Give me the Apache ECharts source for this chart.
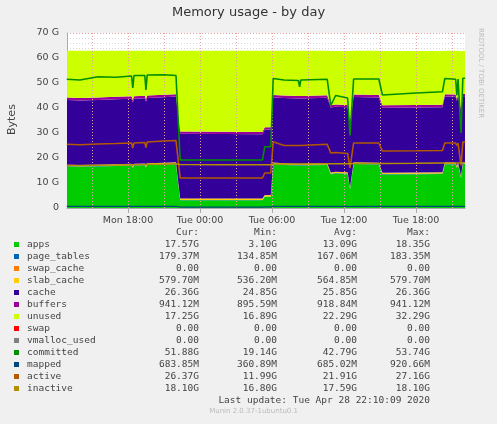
<!DOCTYPE html>
<html>
<head>
<meta charset="utf-8">
<script src="https://cdn.jsdelivr.net/npm/echarts@6/dist/echarts.min.js"></script>
<style>
  html, body { margin: 0; padding: 0; background: #f0f0f0; }
  #chart { width: 497px; height: 424px; }
</style>
</head>
<body>
<div id="chart"></div>
<script>
// hours since Mon 27 Apr 2020 00:00
var hours = [12.9, 14, 15.5, 17, 18.3, 18.4, 18.5, 19.4, 19.5, 19.6, 21, 22.0, 22.35, 26, 29.2,
    29.4, 29.9, 30.1, 31, 32.2, 32.3, 32.4, 34.6, 34.9, 35.3, 36.3, 36.5, 36.8, 38.9, 39.2,
    42, 44.2, 44.4, 45.3, 45.4, 45.5, 45.75, 45.9, 46.1];
var apps = [16.6, 16.5, 16.6, 16.8, 17.0, 16.0, 17.0, 17.1, 16.2, 17.2, 17.4, 17.5, 3.1, 3.1, 3.1,
    4.5, 4.5, 17.5, 17.2, 17.0, 16.8, 17.0, 17.2, 13.5, 13.8, 13.6, 7.5, 17.6, 17.4, 13.4,
    13.5, 13.6, 17.5, 17.4, 16.0, 17.4, 12.0, 17.6, 17.57];
var pageTables = [0.18, 0.18, 0.18, 0.18, 0.18, 0.18, 0.18, 0.18, 0.18, 0.18, 0.18, 0.18, 0.14, 0.14, 0.14,
    0.15, 0.15, 0.18, 0.18, 0.18, 0.18, 0.18, 0.18, 0.17, 0.17, 0.17, 0.16, 0.18, 0.18, 0.17,
    0.17, 0.17, 0.18, 0.18, 0.18, 0.18, 0.17, 0.18, 0.18];
var swapCache = [0, 0, 0, 0, 0, 0, 0, 0, 0, 0, 0, 0, 0, 0, 0, 0, 0, 0, 0, 0,
    0, 0, 0, 0, 0, 0, 0, 0, 0, 0, 0, 0, 0, 0, 0, 0, 0, 0, 0];
var slabCache = [0.57, 0.57, 0.57, 0.57, 0.57, 0.57, 0.57, 0.57, 0.57, 0.57, 0.57, 0.58, 0.54, 0.54, 0.54,
    0.55, 0.55, 0.57, 0.57, 0.57, 0.57, 0.57, 0.57, 0.56, 0.56, 0.56, 0.55, 0.57, 0.57, 0.56,
    0.56, 0.56, 0.58, 0.58, 0.58, 0.58, 0.57, 0.58, 0.58];
var cache = [25.9, 25.8, 25.9, 26.0, 26.0, 25.5, 26.0, 26.1, 25.6, 26.1, 26.2, 26.3, 25.9, 25.8, 25.7,
    26.2, 26.2, 26.0, 26.1, 26.1, 26.0, 26.1, 26.2, 26.0, 26.0, 26.0, 25.5, 26.1, 26.1, 26.0,
    26.0, 26.0, 26.3, 26.3, 26.0, 26.3, 26.0, 26.36, 26.36];
var buffers = [0.93, 0.93, 0.93, 0.93, 0.93, 0.93, 0.93, 0.93, 0.93, 0.93, 0.94, 0.94, 0.90, 0.90, 0.90,
    0.91, 0.91, 0.92, 0.92, 0.92, 0.92, 0.92, 0.92, 0.92, 0.92, 0.92, 0.92, 0.93, 0.93, 0.93,
    0.93, 0.93, 0.94, 0.94, 0.94, 0.94, 0.94, 0.94, 0.94];
var unused = [18.7, 18.9, 18.7, 18.4, 18.2, 19.7, 18.2, 18.0, 19.4, 17.9, 17.6, 17.4, 32.3, 32.4, 32.5,
    30.6, 30.6, 17.7, 17.9, 18.1, 18.3, 18.1, 17.8, 21.7, 21.4, 21.6, 28.2, 17.5, 17.7, 21.7,
    21.6, 21.5, 17.4, 17.5, 18.9, 17.5, 23.0, 17.25, 17.25];
var committed = [51.5, 51.2, 52.5, 52.3, 52.8, 48.0, 53.0, 53.0, 47.2, 53.2, 53.3, 53.0, 19.2, 19.2, 19.2,
    24.5, 24.5, 51.8, 51.2, 51.0, 48.5, 51.2, 51.5, 41.0, 45.0, 44.0, 29.0, 51.6, 51.6, 45.2,
    46.0, 46.5, 51.8, 51.5, 45.0, 51.6, 30.0, 51.9, 51.88];
var mapped = [0.68, 0.68, 0.68, 0.68, 0.68, 0.68, 0.68, 0.68, 0.68, 0.68, 0.69, 0.69, 0.37, 0.37, 0.37,
    0.45, 0.45, 0.68, 0.68, 0.68, 0.68, 0.68, 0.68, 0.66, 0.66, 0.66, 0.6, 0.68, 0.68, 0.66,
    0.66, 0.66, 0.68, 0.68, 0.68, 0.68, 0.65, 0.68, 0.68];
var active = [25.5, 25.3, 25.6, 25.8, 26.0, 24.0, 26.0, 26.2, 24.2, 26.4, 26.8, 27.0, 12.0, 12.0, 12.0,
    14.0, 14.0, 26.5, 25.0, 25.0, 24.5, 25.0, 25.5, 22.0, 22.2, 21.8, 16.0, 26.0, 26.0, 22.8,
    22.9, 23.0, 26.0, 26.0, 25.0, 26.0, 17.0, 26.4, 26.37];
var inactive = [17.0, 17.0, 17.1, 17.2, 17.3, 17.3, 17.3, 17.4, 17.4, 17.5, 17.6, 17.7, 17.4, 17.3, 17.3,
    17.3, 17.3, 17.6, 17.6, 17.6, 17.6, 17.6, 17.7, 17.7, 17.7, 17.7, 17.7, 17.8, 17.8, 17.8,
    17.9, 18.0, 18.0, 18.0, 18.0, 18.0, 18.0, 18.1, 18.1];

var tickHours = [18, 24, 30, 36, 42];
var tickLabels = ['Mon 18:00', 'Tue 00:00', 'Tue 06:00', 'Tue 12:00', 'Tue 18:00'];
var gridHours = [15, 18, 21, 24, 27, 30, 33, 36, 39, 42, 45];

var legendNames = ['apps', 'page_tables', 'swap_cache', 'slab_cache', 'cache', 'buffers', 'unused',
    'swap', 'vmalloc_used', 'committed', 'mapped', 'active', 'inactive'];
var legendColors = ['#00CC00', '#0066B3', '#FF8000', '#FFCC00', '#330099', '#990099', '#CCFF00',
    '#FF0000', '#808080', '#008F00', '#00487D', '#B35A00', '#B38F00'];
var curVals = ['17.57G', '179.37M', '0.00', '579.70M', '26.36G', '941.12M', '17.25G', '0.00', '0.00', '51.88G', '683.85M', '26.37G', '18.10G'];
var minVals = ['3.10G', '134.85M', '0.00', '536.20M', '24.85G', '895.59M', '16.89G', '0.00', '0.00', '19.14G', '360.89M', '11.99G', '16.80G'];
var avgVals = ['13.09G', '167.06M', '0.00', '564.85M', '25.85G', '918.84M', '22.29G', '0.00', '0.00', '42.79G', '685.02M', '21.91G', '17.59G'];
var maxVals = ['18.35G', '183.35M', '0.00', '579.70M', '26.36G', '941.12M', '32.29G', '0.00', '0.00', '53.74G', '920.66M', '27.16G', '18.10G'];

var T0 = Date.UTC(2020, 3, 27);
var HOUR = 3600 * 1000;
function ts(h) { return T0 + h * HOUR; }
function pairs(arr) {
    return hours.map((h, i) => [ts(h), arr[i]]);
}

function area(name, arr, color) {
    return {
        name: name, type: 'line', stack: 'mem', data: pairs(arr), symbol: 'none',
        lineStyle: {width: 0}, itemStyle: {color: color},
        areaStyle: {color: color, opacity: 1}, silent: true
    };
}
function line(name, arr, color, w) {
    return {
        name: name, type: 'line', data: pairs(arr), symbol: 'none', silent: true,
        lineStyle: {width: w, color: color}, itemStyle: {color: color}, z: 5
    };
}

var series = [
    area('apps', apps, '#00CC00'),
    area('page_tables', pageTables, '#0066B3'),
    area('swap_cache', swapCache, '#FF8000'),
    area('slab_cache', slabCache, '#FFCC00'),
    area('cache', cache, '#330099'),
    area('buffers', buffers, '#990099'),
    area('unused', unused, '#CCFF00'),
    line('committed', committed, '#008F00', 1.6),
    line('mapped', mapped, '#00487D', 1.2),
    line('active', active, '#B35A00', 1.6),
    line('inactive', inactive, '#B38F00', 1.6),
    {
        type: 'line', data: [], silent: true, z: 4,
        markLine: {
            silent: true, symbol: 'none', label: {show: false},
            lineStyle: {color: '#e8a0a0', type: [1, 2], width: 1},
            data: gridHours.map(h => ({xAxis: ts(h)}))
        }
    }
];

var mono = 'DejaVu Sans Mono';
var txt = '#444';
var graphics = [
    {type: 'text', left: 'center', top: 6, style: {text: 'Memory usage - by day', font: '13px DejaVu Sans', fill: '#333'}},
    {type: 'text', x: 7, y: 135, rotation: Math.PI / 2, style: {text: 'Bytes', font: '11px DejaVu Sans', fill: txt}},
    {type: 'text', x: 484, y: 28, rotation: -Math.PI / 2, style: {text: 'RRDTOOL / TOBI OETIKER', font: '7px DejaVu Sans', fill: '#bbb'}},
    {type: 'text', x: 199, y: 228, style: {text: 'Cur:', font: '9.5px ' + mono, fill: txt, align: 'right'}},
    {type: 'text', x: 277, y: 228, style: {text: 'Min:', font: '9.5px ' + mono, fill: txt, align: 'right'}},
    {type: 'text', x: 357, y: 228, style: {text: 'Avg:', font: '9.5px ' + mono, fill: txt, align: 'right'}},
    {type: 'text', x: 430, y: 228, style: {text: 'Max:', font: '9.5px ' + mono, fill: txt, align: 'right'}},
    {type: 'text', x: 430, y: 396, style: {text: 'Last update: Tue Apr 28 22:10:09 2020', font: '9.5px ' + mono, fill: txt, align: 'right'}},
    {type: 'text', x: 298, y: 408, style: {text: 'Munin 2.0.37-1ubuntu0.1', font: '7px DejaVu Sans', fill: '#bbb', align: 'right'}}
];
legendNames.forEach((n, i) => {
    var y = 240 + i * 12;
    graphics.push({type: 'rect', shape: {x: 14, y: y + 2, width: 5, height: 5}, style: {fill: legendColors[i]}});
    graphics.push({type: 'text', x: 27, y: y, style: {text: n, font: '9.5px ' + mono, fill: txt}});
    [[199, curVals], [277, minVals], [357, avgVals], [430, maxVals]].forEach(c => {
        graphics.push({type: 'text', x: c[0], y: y, style: {text: c[1][i], font: '9.5px ' + mono, fill: txt, align: 'right'}});
    });
});

var chart = echarts.init(document.getElementById('chart'));
chart.setOption({
    backgroundColor: '#f0f0f0',
    animation: false,
    grid: {left: 67, right: 32, top: 33, bottom: 216, show: true, backgroundColor: '#fff', borderWidth: 0},
    xAxis: [{
        type: 'time', min: ts(12.92), max: ts(46.08),
        axisLine: {show: false}, axisTick: {show: false}, axisLabel: {show: false},
        splitLine: {show: false}
    }, {
        // label axis in hours
        type: 'value', min: 12.92, max: 46.08, position: 'bottom',
        axisLine: {show: true, onZero: false, lineStyle: {color: '#aaa'}},
        axisTick: {show: true, customValues: tickHours, lineStyle: {color: '#aaa'}},
        axisLabel: {customValues: tickHours, color: txt, fontSize: 9.5, fontFamily: 'DejaVu Sans',
            formatter: v => tickLabels[tickHours.indexOf(v)] || ''},
        splitLine: {show: false}
    }],
    yAxis: {
        type: 'value', min: 0, max: 70, interval: 10,
        axisLine: {show: true, lineStyle: {color: '#aaa'}},
        axisTick: {show: false},
        axisLabel: {color: txt, fontSize: 9.5, fontFamily: 'DejaVu Sans', formatter: v => v ? v + ' G' : '0'},
        splitLine: {show: true, lineStyle: {color: '#e8a0a0', type: [1, 2]}},
        minorSplitLine: {show: true, lineStyle: {color: '#d8d8d8', type: [1, 2]}}
    },
    series: series,
    graphic: graphics
});
</script>
</body>
</html>
